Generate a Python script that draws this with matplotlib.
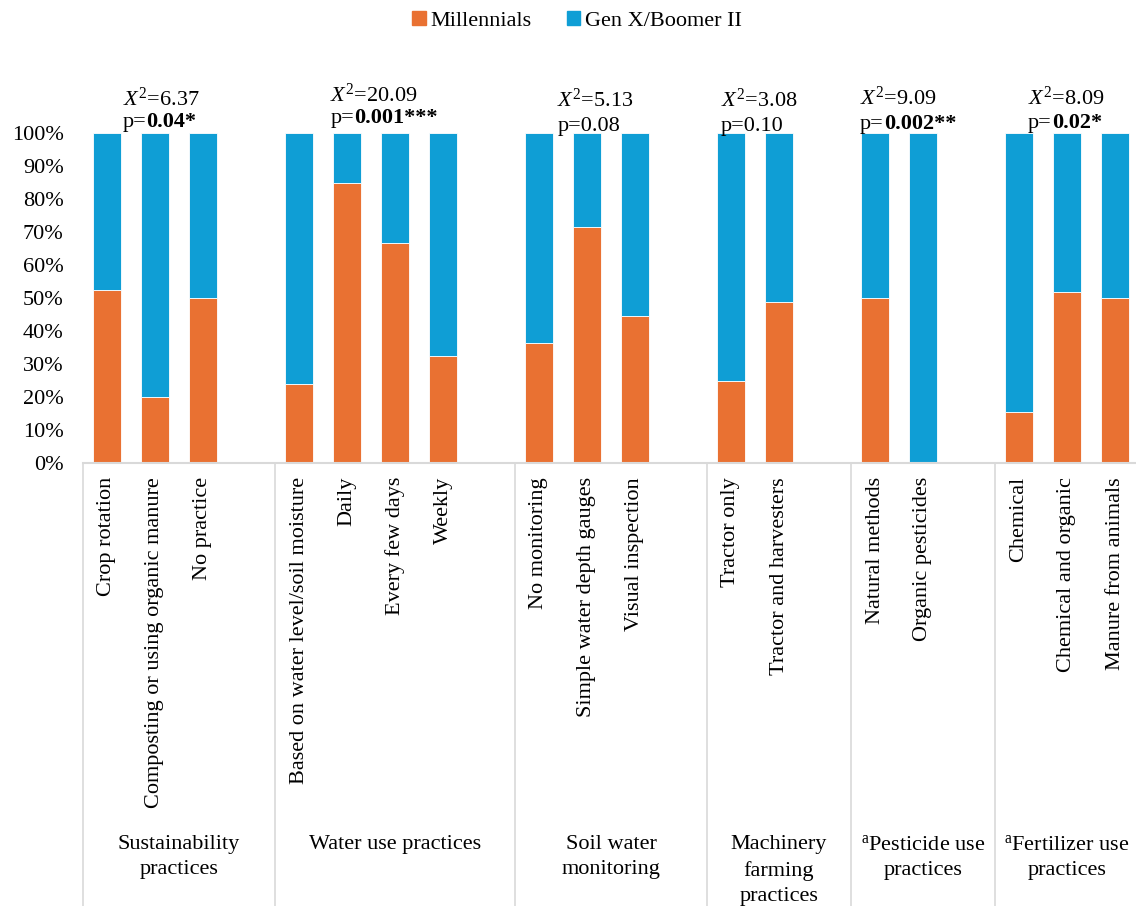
import matplotlib
matplotlib.use("Agg")
import matplotlib.pyplot as plt
from matplotlib.patches import Patch
from matplotlib.transforms import blended_transform_factory

plt.rcParams["font.family"] = ["Liberation Serif", "DejaVu Serif"]
plt.rcParams["mathtext.fontset"] = "custom"
plt.rcParams["mathtext.rm"] = "Liberation Serif"
plt.rcParams["mathtext.it"] = "Liberation Serif:italic"
plt.rcParams["mathtext.bf"] = "Liberation Serif:bold"

# ---- data -------------------------------------------------------------
group_names = [
    "Sustainability\npractices",
    "Water use practices",
    "Soil water\nmonitoring",
    "Machinery\nfarming\npractices",
    r"$^{\mathrm{a}}$Pesticide use" + "\npractices",
    r"$^{\mathrm{a}}$Fertilizer use" + "\npractices",
]
sustain_labels = ["Crop rotation", "Composting or using organic manure", "No practice"]
water_labels = ["Based on water level/soil moisture", "Daily", "Every few days", "Weekly"]
soil_labels = ["No monitoring", "Simple water depth gauges", "Visual inspection"]
machinery_labels = ["Tractor only", "Tractor and harvesters"]
pesticide_labels = ["Natural methods", "Organic pesticides"]
fertilizer_labels = ["Chemical", "Chemical and organic", "Manure from animals"]

# share of Millennials (%) in each answer; the rest is Gen X/Boomer II
sustain_mill = [52.5, 20.0, 50.0]
water_mill = [24.0, 84.8, 66.6, 32.3]
soil_mill = [36.4, 71.4, 44.4]
machinery_mill = [25.0, 48.7]
pesticide_mill = [50.0, 0.0]
fertilizer_mill = [15.5, 51.9, 50.0]

chi_values = ["6.37", "20.09", "5.13", "3.08", "9.09", "8.09"]
p_values = ["0.04*", "0.001***", "0.08", "0.10", "0.002**", "0.02*"]
p_significant = [True, True, False, False, True, True]

group_labels = [sustain_labels, water_labels, soil_labels,
                machinery_labels, pesticide_labels, fertilizer_labels]
group_mill = [sustain_mill, water_mill, soil_mill,
              machinery_mill, pesticide_mill, fertilizer_mill]

# ---- styling ----------------------------------------------------------
ORANGE = "#E97132"
BLUE = "#0F9ED5"
GRID = "#D9D9D9"
FS = 16

# statistic text placement: left offset from first bar (slots) and
# baselines of the two lines (in % units)
stat_xoff = [0.33, 0.65, 0.38, -0.21, -0.31, 0.19]
chi_base = [108.2, 109.4, 107.9, 107.9, 108.5, 108.5]
p_base = [101.8, 102.9, 100.6, 100.6, 101.2, 101.5]

fig = plt.figure(figsize=(11.36, 9.06), dpi=100)
ax = fig.add_axes([83 / 1136, (906 - 463) / 906, 48 * 22 / 1136, 330 / 906])

positions, tick_labels, mill_vals = [], [], []
group_bounds = []
slot = 0
n_groups = len(group_labels)
for gi, (labs, vals) in enumerate(zip(group_labels, group_mill)):
    start = slot
    for lab, v in zip(labs, vals):
        positions.append(slot)
        tick_labels.append(lab)
        mill_vals.append(v)
        slot += 1
    if gi < n_groups - 1:
        group_bounds.append((start - 0.5, slot + 0.5))
        slot += 1  # blank slot between groups
    else:
        group_bounds.append((start - 0.5, slot - 0.5))

gen_vals = [100 - v for v in mill_vals]
bw = 0.57
ax.bar(positions, mill_vals, width=bw, color=ORANGE, edgecolor="white",
       linewidth=0.6, label="Millennials", zorder=2)
ax.bar(positions, gen_vals, width=bw, bottom=mill_vals, color=BLUE,
       edgecolor="white", linewidth=0.6, label="Gen X/Boomer II", zorder=2)

ax.set_xlim(-0.5, slot - 0.5)
ax.set_ylim(0, 100)
ax.set_yticks(range(0, 101, 10))
ax.set_yticklabels([f"{v}%" for v in range(0, 101, 10)], fontsize=FS)
ax.set_xticks(positions)
ax.set_xticklabels(tick_labels, rotation=90, fontsize=FS, va="top", ha="center")
ax.tick_params(axis="both", length=0)
ax.tick_params(axis="y", pad=14)
ax.tick_params(axis="x", pad=10)

for s in ["top", "right", "left"]:
    ax.spines[s].set_visible(False)
ax.spines["bottom"].set_color(GRID)
ax.spines["bottom"].set_linewidth(1.5)

# vertical group separators running below the axis
trans = blended_transform_factory(ax.transData, ax.transAxes)
bottom_ax = -463 / 330
for xv in [lo for lo, hi in group_bounds] + [group_bounds[-1][1]]:
    ax.plot([xv, xv], [0, bottom_ax], color=GRID, lw=1.2,
            transform=trans, clip_on=False, zorder=1)

# group names
for (lo, hi), name in zip(group_bounds, group_names):
    ax.text((lo + hi) / 2, (463 - 835) / 330, name, transform=trans,
            ha="center", va="top", fontsize=FS, linespacing=1.45)

# chi-square statistics above each group
for gi, (lo, hi) in enumerate(group_bounds):
    x0 = lo + 0.5 + stat_xoff[gi]
    ax.text(x0, chi_base[gi], r"$X^2$=" + chi_values[gi], fontsize=FS,
            ha="left", va="baseline", clip_on=False)
    if p_significant[gi]:
        t1 = ax.text(x0, p_base[gi], "p=", fontsize=FS, ha="left",
                     va="baseline", clip_on=False)
        ax.annotate(p_values[gi], xy=(1, 0), xycoords=t1, fontsize=FS,
                    fontweight="bold", ha="left", va="bottom",
                    annotation_clip=False)
    else:
        ax.text(x0, p_base[gi], "p=" + p_values[gi], fontsize=FS,
                ha="left", va="baseline", clip_on=False)

handles = [Patch(color=ORANGE, label="Millennials"),
           Patch(color=BLUE, label="Gen X/Boomer II")]
fig.legend(handles=handles, loc="center", bbox_to_anchor=(577 / 1136, 1 - 21 / 906),
           ncol=2, frameon=False, fontsize=FS, handlelength=0.6,
           handleheight=0.6, handletextpad=0.2, columnspacing=1.6)

fig.savefig("out.png", dpi=100)
